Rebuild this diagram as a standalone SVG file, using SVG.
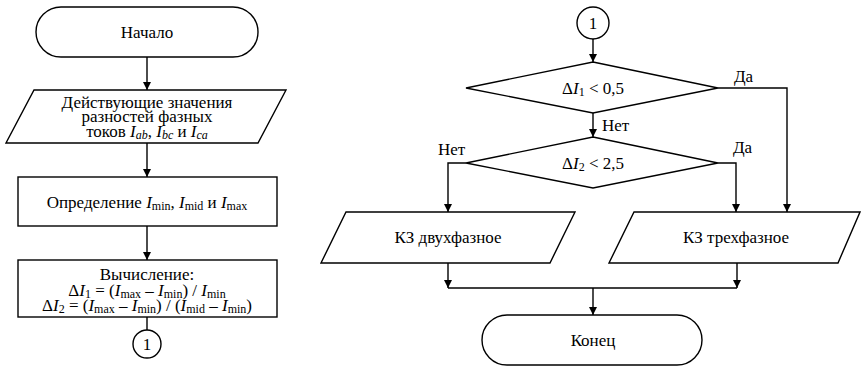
<svg xmlns="http://www.w3.org/2000/svg" width="861" height="366" viewBox="0 0 861 366">
  <style>
    .shape { fill: #fff; stroke: #000; stroke-width: 1.4; }
    .wire { fill: none; stroke: #000; stroke-width: 1.4; }
    text { font-family: 'Liberation Serif', 'Times New Roman', serif; font-size: 17px; fill: #000; }
    .c { text-anchor: middle; }
    .i { font-style: italic; }
    .sub { font-size: 12px; }
  </style>
  <defs>
    <marker id="arrow" viewBox="0 0 8 10" refX="8" refY="5" markerWidth="8" markerHeight="10" markerUnits="userSpaceOnUse" orient="auto">
      <path d="M0,1 L8,5 L0,9 Z" fill="#000"/>
    </marker>
  </defs>

  <!-- connectors -->
  <g id="connectors">
    <line class="wire" x1="147" y1="57" x2="147" y2="90" marker-end="url(#arrow)"/>
    <line class="wire" x1="147" y1="143" x2="147" y2="177" marker-end="url(#arrow)"/>
    <line class="wire" x1="147" y1="226" x2="147" y2="260" marker-end="url(#arrow)"/>
    <line class="wire" x1="147" y1="317" x2="147" y2="330"/>
    <line class="wire" x1="593" y1="39" x2="593" y2="62" marker-end="url(#arrow)"/>
    <line class="wire" x1="593" y1="113" x2="593" y2="137" marker-end="url(#arrow)"/>
    <polyline class="wire" points="718,88 787,88 787,212" marker-end="url(#arrow)"/>
    <polyline class="wire" points="718,163 736,163 736,212" marker-end="url(#arrow)"/>
    <polyline class="wire" points="466,163 448,163 448,212" marker-end="url(#arrow)"/>
    <line class="wire" x1="448" y1="263" x2="448" y2="288" marker-end="url(#arrow)"/>
    <line class="wire" x1="737" y1="263" x2="737" y2="288" marker-end="url(#arrow)"/>
    <line class="wire" x1="448" y1="288" x2="737" y2="288"/>
    <line class="wire" x1="593" y1="288" x2="593" y2="315" marker-end="url(#arrow)"/>
    <text x="734" y="82">Да</text>
    <text x="733" y="153">Да</text>
    <text x="602" y="131">Нет</text>
    <text x="438" y="155">Нет</text>
  </g>

  <!-- start -->
  <g id="start">
    <rect class="shape" x="36" y="7" width="222" height="50" rx="25" ry="25"/>
    <text class="c" x="147" y="38">Начало</text>
  </g>

  <!-- input currents -->
  <g id="input">
    <polygon class="shape" points="34,90 286,90 258,143 6,143"/>
    <text class="c" x="147" y="108">Действующие значения</text>
    <text class="c" x="147" y="122">разностей фазных</text>
    <text class="c" x="147" y="137">токов <tspan class="i">I</tspan><tspan class="sub i" dy="2">ab</tspan><tspan dy="-2">, </tspan><tspan class="i">I</tspan><tspan class="sub i" dy="2">bc</tspan><tspan dy="-2"> и </tspan><tspan class="i">I</tspan><tspan class="sub i" dy="2">ca</tspan></text>
  </g>

  <!-- sort currents -->
  <g id="define">
    <rect class="shape" x="18" y="177" width="259" height="49"/>
    <text class="c" x="147" y="208">Определение <tspan class="i">I</tspan><tspan class="sub" dy="2">min</tspan><tspan dy="-2">, </tspan><tspan class="i">I</tspan><tspan class="sub" dy="2">mid</tspan><tspan dy="-2"> и </tspan><tspan class="i">I</tspan><tspan class="sub" dy="2">max</tspan></text>
  </g>

  <!-- compute ratios -->
  <g id="compute">
    <rect class="shape" x="18" y="260" width="259" height="57"/>
    <text class="c" x="147" y="280">Вычисление:</text>
    <text class="c" x="147" y="296">Δ<tspan class="i">I</tspan><tspan class="sub" dy="2">1</tspan><tspan dy="-2"> = (</tspan><tspan class="i">I</tspan><tspan class="sub" dy="2">max</tspan><tspan dy="-2"> – </tspan><tspan class="i">I</tspan><tspan class="sub" dy="2">min</tspan><tspan dy="-2">) / </tspan><tspan class="i">I</tspan><tspan class="sub" dy="2">min</tspan></text>
    <text class="c" x="147" y="311">Δ<tspan class="i">I</tspan><tspan class="sub" dy="2">2</tspan><tspan dy="-2"> = (</tspan><tspan class="i">I</tspan><tspan class="sub" dy="2">max</tspan><tspan dy="-2"> – </tspan><tspan class="i">I</tspan><tspan class="sub" dy="2">min</tspan><tspan dy="-2">) / (</tspan><tspan class="i">I</tspan><tspan class="sub" dy="2">mid</tspan><tspan dy="-2"> – </tspan><tspan class="i">I</tspan><tspan class="sub" dy="2">min</tspan><tspan dy="-2">)</tspan></text>
  </g>

  <!-- off-page link out -->
  <g id="link-out">
    <circle class="shape" cx="147" cy="344" r="14"/>
    <text class="c" x="147" y="350">1</text>
  </g>

  <!-- off-page link in -->
  <g id="link-in">
    <circle class="shape" cx="593" cy="23" r="16"/>
    <text class="c" x="593" y="29">1</text>
  </g>

  <!-- first check -->
  <g id="check1">
    <polygon class="shape" points="593,62 718,88 593,113 466,88"/>
    <text class="c" x="593" y="94">Δ<tspan class="i">I</tspan><tspan class="sub" dy="2">1</tspan><tspan dy="-2"> &lt; 0,5</tspan></text>
  </g>

  <!-- second check -->
  <g id="check2">
    <polygon class="shape" points="593,137 718,163 593,188 466,163"/>
    <text class="c" x="593" y="169">Δ<tspan class="i">I</tspan><tspan class="sub" dy="2">2</tspan><tspan dy="-2"> &lt; 2,5</tspan></text>
  </g>

  <!-- two-phase fault -->
  <g id="two-phase">
    <polygon class="shape" points="346,212 575,212 550,263 321,263"/>
    <text class="c" x="448" y="243">КЗ двухфазное</text>
  </g>

  <!-- three-phase fault -->
  <g id="three-phase">
    <polygon class="shape" points="634,212 860,212 838,263 609,263"/>
    <text class="c" x="736" y="243">КЗ трехфазное</text>
  </g>

  <!-- end -->
  <g id="end">
    <path class="shape" d="M507,315 H677 A25,25 0 0 1 677,365 H507 A25,25 0 0 1 507,315 Z"/>
    <text class="c" x="593" y="346">Конец</text>
  </g>
</svg>
